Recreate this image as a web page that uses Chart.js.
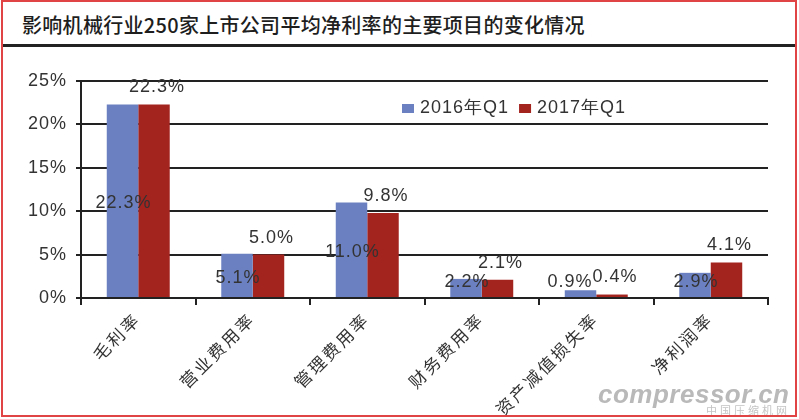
<!DOCTYPE html>
<html>
<head>
<meta charset="utf-8">
<script src="https://cdn.jsdelivr.net/npm/chart.js@4"></script>
<style>
  body { margin: 0; background: #fff; }
  #wrap { position: relative; width: 799px; height: 419px; overflow: hidden; background: #fff; }
  #frame { position: absolute; left: 1px; top: 0; width: 796px; height: 417px; border: 2px solid #e04444; box-sizing: border-box; }
  #title { position: absolute; left: 22px; top: 10px; font: 500 20px "Noto Sans CJK SC", sans-serif; color: #1e1e1e; white-space: nowrap; letter-spacing: 0.3px; }
  #rule { position: absolute; left: 3px; top: 44px; width: 792px; height: 3px; background: #222; }
  #chart-box { position: absolute; left: 0; top: 0; width: 799px; height: 419px; }
  #wm { position: absolute; left: 598px; top: 379px; font: italic bold 26px "Liberation Sans", Arial, sans-serif; color: #b9b9b9; letter-spacing: 0.5px; }
  #wm2 { position: absolute; left: 706px; top: 402px; font: 11px "Noto Sans CJK SC", sans-serif; color: #c4c4c4; letter-spacing: 3px; }
</style>
</head>
<body>
<div id="wrap">
  <div id="title">影响机械行业250家上市公司平均净利率的主要项目的变化情况</div>
  <div id="rule"></div>
  <div id="chart-box"><canvas id="chart"></canvas></div>
  <div id="wm">compressor.cn</div>
  <div id="wm2">中国压缩机网</div>
  <div id="frame"></div>
</div>
<script>
// 数据
const categories = ['毛利率', '营业费用率', '管理费用率', '财务费用率', '资产减值损失率', '净利润率'];
const seriesNames = ['2016年Q1', '2017年Q1'];
const values2016 = [22.3, 5.1, 11.0, 2.2, 0.9, 2.9];
const values2017 = [22.3, 5.0, 9.8, 2.1, 0.4, 4.1];
const yTicks = [0, 5, 10, 15, 20, 25];

const BLUE = '#6b80c1';
const RED = '#a3231f';
const LINE = '#222';
const NUM_FONT = '18px "Liberation Sans", Arial, sans-serif';
const CJK_FONT = '17px "Noto Sans CJK SC", sans-serif';

function fmt(v) { return v.toFixed(1) + '%'; }

// 数值标签、图例(画在绘图区内)、斜排的分类标签
const labelPlugin = {
  id: 'valueLabels',
  beforeDraw(chart) {
    chart.ctx.save();
    chart.ctx.letterSpacing = '1px';
  },
  afterDatasetsDraw(chart) {
    const ctx = chart.ctx;
    const base = chart.scales.y.getPixelForValue(0);
    ctx.save();
    ctx.font = NUM_FONT;
    ctx.fillStyle = '#333';
    ctx.textAlign = 'center';
    ctx.textBaseline = 'middle';
    const bars16 = chart.getDatasetMeta(0).data;
    const bars17 = chart.getDatasetMeta(1).data;
    bars17.forEach((bar, i) => {
      ctx.fillText(fmt(values2017[i]), bar.x + 3, bar.y - 17);
    });
    bars16.forEach((bar, i) => {
      const txt = fmt(values2016[i]);
      const y = Math.min((bar.y + base) / 2 + 2, base - 16);
      let x = bar.x + 1;
      // 与右侧标签重叠时向左让开
      const other = bars17[i];
      const oy = other.y - 17;
      const ow = ctx.measureText(fmt(values2017[i])).width;
      const w = ctx.measureText(txt).width;
      if (Math.abs(oy - y) < 14) {
        const limit = other.x + 3 - ow / 2;
        if (x + w / 2 > limit) x = limit - w / 2;
      }
      ctx.fillText(txt, x, y);
    });

    // 图例
    ctx.textAlign = 'left';
    let lx = 402;
    const ly = 108;
    chart.data.datasets.forEach(ds => {
      ctx.fillStyle = ds.backgroundColor;
      ctx.fillRect(lx, ly - 4, 12, 9);
      ctx.fillStyle = '#333';
      ctx.fillText(ds.label, lx + 18, ly);
      lx += 18 + ctx.measureText(ds.label).width + 10;
    });

    // 分类标签, 45度
    const xs = chart.scales.x;
    ctx.font = CJK_FONT;
    ctx.letterSpacing = '2.5px';
    ctx.textAlign = 'right';
    ctx.textBaseline = 'middle';
    categories.forEach((name, i) => {
      ctx.save();
      ctx.translate(xs.getPixelForValue(i) - 1, base + 18);
      ctx.rotate(-Math.PI / 4);
      ctx.fillText(name, 0, 0);
      ctx.restore();
    });
    ctx.restore();
  },
  afterDraw(chart) {
    chart.ctx.restore();
  }
};

new Chart(document.getElementById('chart'), {
  type: 'bar',
  data: {
    labels: categories,
    datasets: [
      { label: seriesNames[0], data: values2016, backgroundColor: BLUE },
      { label: seriesNames[1], data: values2017, backgroundColor: RED }
    ]
  },
  options: {
    responsive: true,
    maintainAspectRatio: false,
    animation: false,
    layout: { padding: { top: 81, right: 31, left: 0, bottom: 0 } },
    datasets: { bar: { categoryPercentage: 0.55, barPercentage: 1.0 } },
    plugins: {
      legend: { display: false },
      tooltip: { enabled: false }
    },
    scales: {
      x: {
        afterFit: s => { s.height = 121; },
        grid: { display: true, drawOnChartArea: false, offset: true, color: LINE, lineWidth: 2, tickLength: 7 },
        border: { display: true, color: LINE, width: 2 },
        ticks: { display: false }
      },
      y: {
        min: 0,
        max: 25,
        afterFit: s => { s.width = 81; },
        afterBuildTicks: s => { s.ticks = yTicks.map(v => ({ value: v })); },
        grid: { color: LINE, lineWidth: 2, tickLength: 5 },
        border: { display: true, color: LINE, width: 2 },
        ticks: {
          color: '#333',
          font: { family: '"Liberation Sans", Arial, sans-serif', size: 18 },
          padding: 9,
          callback: v => v + '%'
        }
      }
    }
  },
  plugins: [labelPlugin]
});
</script>
</body>
</html>
